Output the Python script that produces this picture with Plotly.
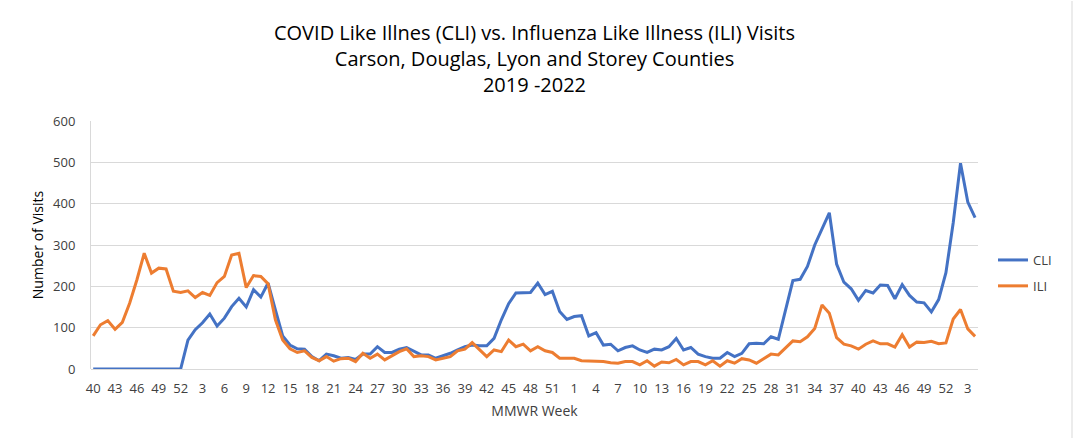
import plotly.graph_objects as go

# MMWR weeks: 2019 wk40-52, 2020 wk1-53, 2021 wk1-52, 2022 wk1-4
weeks = (list(range(40, 53)) + list(range(1, 54)) + list(range(1, 53)) + [1, 2, 3, 4])

cli = [0, 0, 0, 0, 0, 0, 0, 0, 0, 0, 0, 0, 0,
       70, 95, 112, 133, 104, 123, 151, 171, 150, 192, 174, 208, 143, 80, 58, 49, 48,
       30, 20, 36, 32, 26, 28, 23, 36, 36, 54, 40, 40, 48, 52, 42, 34, 34, 26, 32, 38,
       46, 54, 58, 56, 56, 74, 119, 158, 184, 185, 185, 208, 180, 188, 139, 120, 127, 129,
       80, 88, 58, 60, 44, 52, 56, 46, 40, 48, 46, 54, 74, 46, 52, 36, 30, 26, 26, 40,
       30, 38, 61, 62, 61, 78, 72, 143, 214, 217, 248, 300, 338, 378, 254, 210, 194, 166,
       190, 184, 203, 202, 170, 204, 178, 162, 160, 138, 168, 233, 354, 498, 404, 366]

ili = [80, 107, 117, 96, 113, 159, 216, 280, 232, 244, 242, 188, 185,
       189, 173, 185, 178, 209, 224, 276, 280, 197, 226, 224, 206, 119, 70, 49, 40, 44,
       28, 20, 30, 19, 25, 26, 18, 38, 26, 36, 22, 32, 42, 49, 30, 32, 30, 22, 26, 30,
       44, 48, 64, 46, 30, 46, 42, 70, 54, 60, 44, 54, 44, 40, 26, 26, 26, 20,
       19, 19, 18, 15, 14, 18, 18, 10, 20, 7, 17, 15, 23, 10, 18, 18, 10, 20, 7, 20,
       14, 25, 22, 14, 26, 36, 34, 50, 68, 66, 78, 98, 155, 135, 76, 60, 56, 48,
       60, 68, 61, 61, 53, 83, 53, 65, 64, 67, 61, 63, 121, 144, 97, 79]

series_names = ["CLI", "ILI"]
colors = ["#4472C4", "#ED7D31"]

x = list(range(len(weeks)))
tickvals = x[::3]
ticktext = [str(weeks[i]) for i in tickvals]

fig = go.Figure()
for name, vals, col in zip(series_names, [cli, ili], colors):
    fig.add_trace(go.Scatter(x=x, y=vals, mode="lines", name=name, legendgroup=name,
                             line=dict(color=col, width=3)))

font_family = "Open Sans, Liberation Sans, sans-serif"
fig.update_layout(
    width=1075, height=439,
    margin=dict(l=91, r=97, t=121, b=70),
    paper_bgcolor="white", plot_bgcolor="white",
    font=dict(family=font_family, color="#404040", size=12),
    title=dict(
        text="COVID Like Illnes (CLI) vs. Influenza Like Illness (ILI) Visits<br>"
             "Carson, Douglas, Lyon and Storey Counties<br>2019 -2022",
        x=0.5, xanchor="center", xref="paper",
        y=1 - 40 / 439, yanchor="top", yref="container",
        font=dict(size=20, color="#000000", family=font_family),
    ),
    xaxis=dict(
        range=[-0.3, 121.4], tickvals=tickvals, ticktext=ticktext,
        showgrid=False, zeroline=False, showline=False, ticks="",
        ticklabelstandoff=10,
        tickfont=dict(size=13, color="#404040"),
        title=dict(text="MMWR Week", font=dict(size=14, color="#404040"), standoff=10),
        fixedrange=True,
    ),
    yaxis=dict(
        range=[0, 600], dtick=100, showgrid=True, gridcolor="#d9d9d9", gridwidth=1,
        zeroline=True, zerolinecolor="#d9d9d9", zerolinewidth=1,
        showline=True, linecolor="#d9d9d9", linewidth=1, ticks="",
        ticklabelstandoff=12,
        tickfont=dict(size=13, color="#404040"),
        title=dict(text="Number of Visits", font=dict(size=14, color="#000000"), standoff=6),
    ),
    legend=dict(x=(993 - 91) / 887, y=(369 - 273) / 248, xanchor="left", yanchor="middle",
                font=dict(size=13, color="#404040"), tracegroupgap=6,
                bgcolor="rgba(0,0,0,0)", itemwidth=30),
    showlegend=True,
)

# right edge of the Excel chart-area border
fig.add_shape(type="line", xref="paper", yref="paper",
              x0=(1072 - 91) / 887, x1=(1072 - 91) / 887, y0=-69 / 248, y1=1 + 120 / 248,
              line=dict(color="#d9d9d9", width=1))

fig.write_html("out.html", config={"displayModeBar": False},
               post_script="document.body.style.margin='0';")
